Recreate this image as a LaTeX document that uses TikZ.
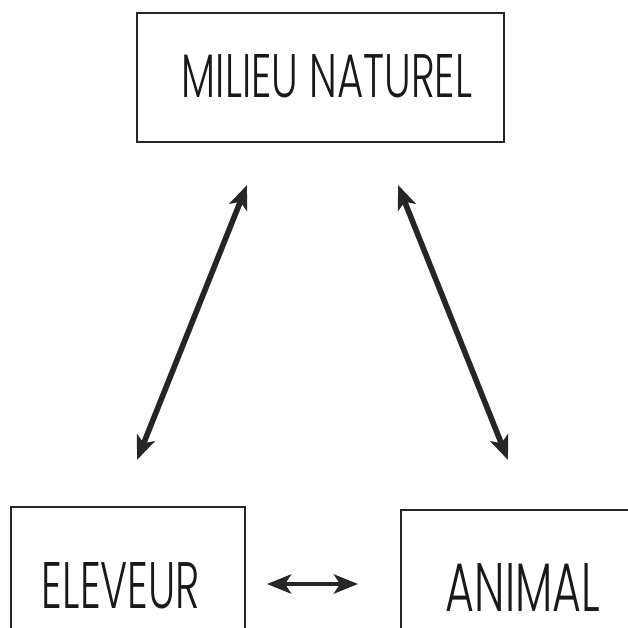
\documentclass[tikz,border=0pt]{standalone}
\usepackage{fontspec}
\setmainfont{Poppins}[UprightFont={* Light}]
\usetikzlibrary{arrows.meta}
\tikzset{
  boxstyle/.style={draw=black!85, line width=1.3pt, inner sep=0pt},
  lbl/.style={inner sep=0pt, text=black!90},
  dbl/.style={line width=5.6pt, black!85, {Stealth[length=24pt,width=19pt,inset=6pt]}-{Stealth[length=24pt,width=19pt,inset=6pt]}},
}
\newcommand{\fitlabel}[3]{\resizebox{#1pt}{#2pt}{#3}}
\begin{document}
\begin{tikzpicture}[x=1pt,y=-1pt]
\useasboundingbox[fill=white] (0,0) rectangle (628,627);
% boxes (the two lower boxes run out of the picture at the bottom)
\node[boxstyle, minimum width=367pt, minimum height=129pt] (milieu) at (320.5,77.5) {};
\node[boxstyle, minimum width=234pt, minimum height=122pt] (eleveur) at (128,568) {};
\node[boxstyle, minimum width=259pt, minimum height=119pt] (animal) at (530.5,569.5) {};
% labels
\node[lbl] (tmilieu) at (327,76.5) {\fitlabel{290}{43}{MILIEU NATUREL}};
\node[lbl] (televeur) at (121,586) {\fitlabel{158}{46}{ELEVEUR}};
\node[lbl] (tanimal) at (523,587) {\fitlabel{154}{48}{ANIMAL}};
% arrow end points
\coordinate (l1) at (247,185);
\coordinate (l2) at (137,460);
\coordinate (r1) at (398,185);
\coordinate (r2) at (508,460);
\coordinate (h1) at (267,584);
\coordinate (h2) at (358,584);
\draw[dbl] (l1) -- (l2);
\draw[dbl] (r1) -- (r2);
\draw[dbl, line width=4.6pt] (h1) -- (h2);
\end{tikzpicture}
\end{document}
